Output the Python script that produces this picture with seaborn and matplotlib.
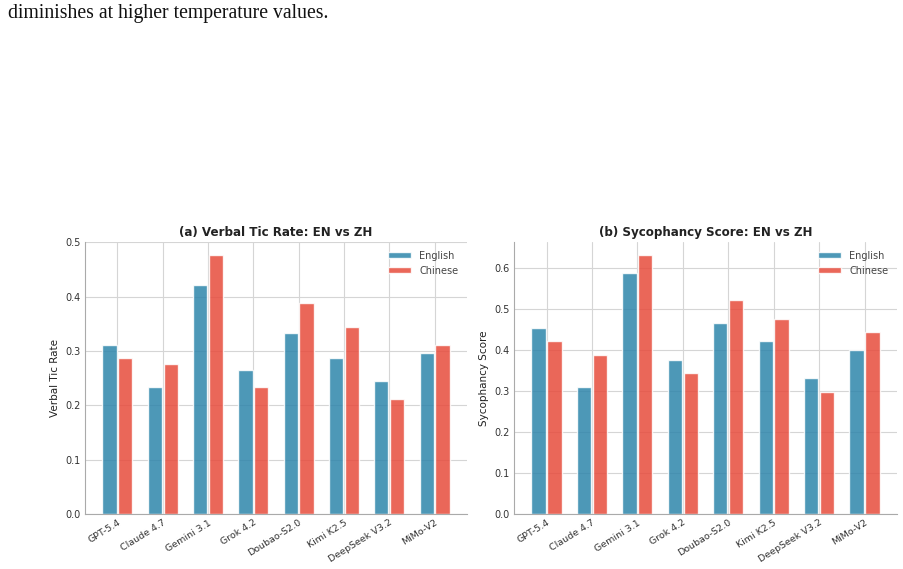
import pandas as pd
import seaborn as sns
import matplotlib.pyplot as plt

models = ["GPT-5.4", "Claude 4.7", "Gemini 3.1", "Grok 4.2",
          "Doubao-S2.0", "Kimi K2.5", "DeepSeek V3.2", "MiMo-V2"]
languages = ["English", "Chinese"]

# (a) verbal tic rate
tic_en = [0.311, 0.233, 0.421, 0.266, 0.334, 0.288, 0.244, 0.297]
tic_zh = [0.288, 0.277, 0.477, 0.233, 0.388, 0.344, 0.211, 0.311]

# (b) sycophancy score
syc_en = [0.455, 0.310, 0.588, 0.376, 0.466, 0.422, 0.332, 0.400]
syc_zh = [0.422, 0.389, 0.633, 0.344, 0.522, 0.476, 0.297, 0.444]

palette = {"English": "#2E86AB", "Chinese": "#E74C3C"}

sns.set_theme(style="whitegrid")
plt.rcParams['font.family'] = ['DejaVu Sans']

fig = plt.figure(figsize=(9.04, 5.69), dpi=100)

# 论文正文的最后一行
fig.text(0.009, 0.977, "diminishes at higher temperature values.",
         family=['Liberation Serif', 'DejaVu Serif'], fontsize=14.2,
         va='center', ha='left', color='#111111')

panels = [
    ([0.094, 0.0967, 0.4226, 0.478], tic_en, tic_zh,
     "(a) Verbal Tic Rate: EN vs ZH", "Verbal Tic Rate"),
    ([0.5686, 0.0967, 0.4237, 0.478], syc_en, syc_zh,
     "(b) Sycophancy Score: EN vs ZH", "Sycophancy Score"),
]

for rect, en, zh, title, ylabel in panels:
    ax = fig.add_axes(rect)
    df = pd.DataFrame({
        "Model": models * 2,
        "Language": ["English"] * len(models) + ["Chinese"] * len(models),
        "Value": en + zh,
    })
    sns.barplot(data=df, x="Model", y="Value", hue="Language",
                hue_order=languages, palette=palette, width=0.7, gap=0.1,
                alpha=0.85, edgecolor="white", linewidth=1, saturation=1,
                errorbar=None, ax=ax)
    n = len(models)
    ax.set_xlim(-0.3325 - 0.05 * (n - 1 + 0.665), n - 1 + 0.3325 + 0.05 * (n - 1 + 0.665))
    ax.set_ylim(0, max(max(en), max(zh)) * 1.05)
    ax.set_title(title, fontsize=8.6, fontweight='bold', color='#222222', pad=4)
    ax.set_xlabel("")
    ax.set_ylabel(ylabel, fontsize=7.5, color='#222222', labelpad=4)
    ax.tick_params(axis='y', labelsize=7, colors='#333333', pad=3, length=0)
    ax.tick_params(axis='x', labelsize=6.8, colors='#333333', pad=3, length=0)
    plt.setp(ax.get_xticklabels(), rotation=32, ha='right', rotation_mode='anchor')
    ax.grid(True, color='#d5d5d5', linewidth=0.8)
    for s in ["top", "right"]:
        ax.spines[s].set_visible(False)
    for s in ["left", "bottom"]:
        ax.spines[s].set_color('#aaaaaa')
        ax.spines[s].set_linewidth(0.8)
    leg = ax.legend(loc='upper right', fontsize=7, frameon=False,
                    handlelength=2.4, handleheight=0.6, labelcolor='#444444')
    leg.set_title(None)

fig.savefig("out.png", dpi=100)
